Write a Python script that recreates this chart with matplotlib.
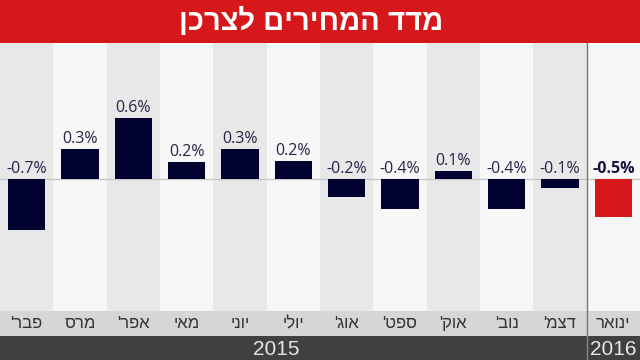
import matplotlib
matplotlib.use("Agg")
import matplotlib.pyplot as plt
from matplotlib.patches import Rectangle

# ---- data ----
months = ["פבר'", "מרס", "אפר'", "מאי", "יוני", "יולי", "אוג'", "ספט'", "אוק'", "נוב'", "דצמ'", "ינואר"]
bar_values = [-0.51, 0.30, 0.61, 0.17, 0.30, 0.18, -0.18, -0.30, 0.08, -0.30, -0.09, -0.38]
value_labels = ["-0.7%", "0.3%", "0.6%", "0.2%", "0.3%", "0.2%", "-0.2%", "-0.4%", "0.1%", "-0.4%", "-0.1%", "-0.5%"]
years = ["2015", "2016"]
title = "מדד המחירים לצרכן"

NAVY = "#020230"
RED = "#d7181b"
HEB = ["Liberation Sans Narrow", "Liberation Sans", "DejaVu Sans"]
NUM = ["Open Sans", "DejaVu Sans"]


def vis(s):
    # visual order for right-to-left text
    return s[::-1]


W, H = 640, 360
fig = plt.figure(figsize=(6.4, 3.6), dpi=100)
fig.patch.set_facecolor("white")


def fy(px):
    return 1 - px / H

# title bar
fig.patches.append(Rectangle((0, fy(43)), 1, 43 / H, transform=fig.transFigure,
                             facecolor=RED, edgecolor="none", zorder=0))
fig.text(311 / W, fy(21.5), vis(title), color="white", fontsize=21, fontweight="bold",
         family=HEB, ha="center", va="center")

n = len(months)
# main axes
ax = fig.add_axes([0, fy(311), 1, (311 - 43) / H])
ax.set_xlim(-0.5, n - 0.5)
ax.set_ylim(-1.317, 1.363)
ax.axis("off")
for i in range(n):
    ax.axvspan(i - 0.5, i + 0.5, color="#e8e8e8" if i % 2 == 0 else "#f7f7f7", lw=0, zorder=0)
ax.axhline(0, color="#c8c8c8", lw=1.0, zorder=1)
colors = [NAVY] * (n - 1) + [RED]
ax.bar(range(n), bar_values, width=0.7, color=colors, zorder=2)
for i, (v, lab) in enumerate(zip(bar_values, value_labels)):
    y = max(v, 0)
    last = i == n - 1
    ax.annotate(lab, (i, y), xytext=(0, 1.5), textcoords="offset points",
                ha="center", va="bottom", fontsize=11.5, family=NUM,
                color="#15153a" if last else "#252548",
                fontweight="bold" if last else "normal", zorder=3)
ax.axvline(n - 1.5, color="#777777", lw=1.0, zorder=4)

# month row
axm = fig.add_axes([0, fy(336), 1, 25 / H])
axm.set_xlim(-0.5, n - 0.5)
axm.set_ylim(0, 1)
axm.axis("off")
axm.add_patch(Rectangle((-0.5, 0), n, 1, facecolor="#d6d6d6", edgecolor="none", zorder=0))
for i, m in enumerate(months):
    axm.text(i, 0.5, vis(m), ha="center", va="center", fontsize=12, family=HEB,
             color="#333333")
axm.axvline(n - 1.5, color="#777777", lw=1.0)

# year row
axy = fig.add_axes([0, 0, 1, 24 / H])
axy.set_xlim(-0.5, n - 0.5)
axy.set_ylim(0, 1)
axy.axis("off")
axy.add_patch(Rectangle((-0.5, 0), n, 1, facecolor="#404040", edgecolor="none", zorder=0))
axy.text(276 / W, 0.45, years[0], transform=axy.transAxes, ha="center", va="center",
         fontsize=15, family=HEB, color="#e6e6e6")
axy.text(n - 1, 0.45, years[1], ha="center", va="center", fontsize=15, family=HEB,
         color="#e6e6e6")
axy.axvline(n - 1.5, color="#888888", lw=1.0)

fig.savefig("out.png", dpi=100)
